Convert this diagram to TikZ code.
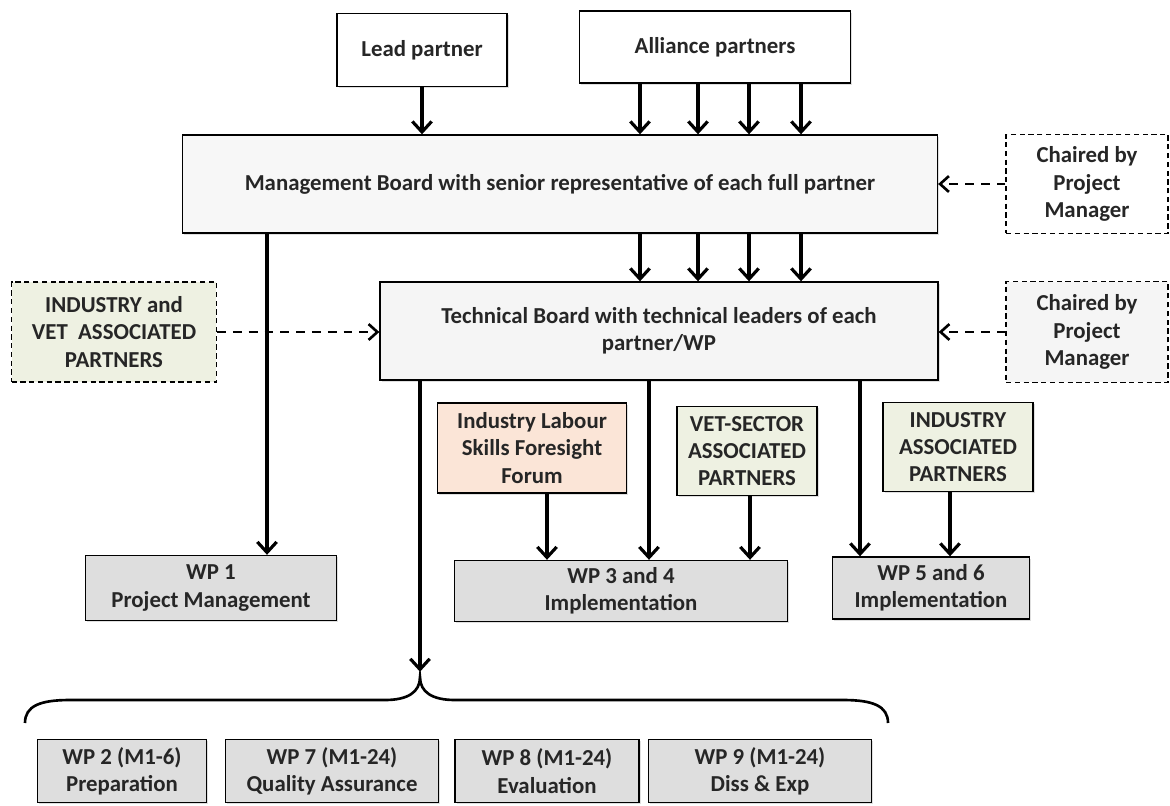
\documentclass[tikz,border=0pt]{standalone}
\usepackage{fontspec}
\setmainfont{Carlito}
\usetikzlibrary{arrows.meta,shadows}

\definecolor{wpgray}{HTML}{DEDEDE}
\definecolor{olivelight}{HTML}{EEF1E2}
\definecolor{peach}{HTML}{FBE5D7}

\begin{document}
\begin{tikzpicture}[x=0.02cm,y=-0.02cm,>={Straight Barb[length=6pt,width=11pt]},
  every node/.style={font=\bfseries\fontsize{13}{15.5}\selectfont, align=center, text=black!85},
  box/.style={draw, line width=0.8pt, inner sep=2pt},
  boxshadow/.style={drop shadow={opacity=0.25,shadow xshift=1pt,shadow yshift=-1pt}},
  wpbox/.style={box, boxshadow, fill=wpgray},
  dashbox/.style={draw, dash pattern=on 3pt off 2pt, line width=0.7pt, inner sep=2pt},
  arr/.style={->, line width=1.8pt},
  dasharr/.style={-{Straight Barb[length=5pt,width=9pt]}, line width=1.5pt, dash pattern=on 5pt off 4pt}]
\useasboundingbox (0,0) rectangle (1170,805);

% partners on top
\node[box, boxshadow, fill=white, minimum width=3.4cm, minimum height=1.46cm] (lead) at (422,50) {Lead partner};
\node[box, boxshadow, fill=white, minimum width=5.42cm, minimum height=1.44cm] (alliance) at (715,47) {Alliance partners};

% boards
\node[box, boxshadow, fill=gray!6, minimum width=15.1cm, minimum height=1.96cm] (mgmt) at (560,184)
  {Management Board with senior representative of each full partner};
\node[box, boxshadow, fill=gray!8, minimum width=11.16cm, minimum height=1.96cm] (tech) at (659,331)
  {Technical Board with technical leaders of each\\partner/WP};

% side boxes
\node[dashbox, fill=white, minimum width=3.24cm, minimum height=1.98cm] (chairA) at (1087,184) {Chaired by\\Project\\Manager};
\node[dashbox, fill=gray!8, minimum width=3.24cm, minimum height=2.02cm] (chairB) at (1087,332) {Chaired by\\Project\\Manager};
\node[dashbox, fill=olivelight, minimum width=4.1cm, minimum height=2cm] (assoc) at (114,332) {INDUSTRY and\\VET\ \ ASSOCIATED\\PARTNERS};

% associated partners
\node[box, boxshadow, fill=peach, minimum width=3.78cm, minimum height=1.8cm] (forum) at (532,448) {Industry Labour\\Skills Foresight\\Forum};
\node[box, boxshadow, fill=olivelight, minimum width=2.8cm, minimum height=1.78cm] (vet) at (747,451) {VET-SECTOR\\ASSOCIATED\\PARTNERS};
\node[box, boxshadow, fill=olivelight, minimum width=3cm, minimum height=1.78cm] (indassoc) at (958,447) {INDUSTRY\\ASSOCIATED\\PARTNERS};

% work packages
\node[wpbox, minimum width=5.02cm, minimum height=1.3cm] (wp1) at (211,588) {WP 1\\Project Management};
\node[wpbox, minimum width=6.66cm, minimum height=1.22cm] (wp34) at (621,591) {WP 3 and 4\\Implementation};
\node[wpbox, minimum width=3.94cm, minimum height=1.24cm] (wp56) at (931,588) {WP 5 and 6\\Implementation};
\node[wpbox, minimum width=3.38cm, minimum height=1.26cm] (wp2) at (122,771) {WP 2 (M1-6)\\Preparation};
\node[wpbox, minimum width=4.26cm, minimum height=1.26cm] (wp7) at (332,771) {WP 7 (M1-24)\\Quality Assurance};
\node[wpbox, minimum width=3.68cm, minimum height=1.26cm] (wp8) at (547,771) {WP 8 (M1-24)\\Evaluation};
\node[wpbox, minimum width=4.46cm, minimum height=1.26cm] (wp9) at (760,771) {WP 9 (M1-24)\\Diss \& Exp};

% brace over WP 2,7,8,9
\coordinate (bracetip) at (420,677);
\draw[line width=1.5pt] (25,723) .. controls (25,706) and (40,700) .. (70,700) -- (385,700)
  .. controls (408,700) and (420,692) .. (bracetip)
  .. controls (420,692) and (432,700) .. (455,700) -- (843,700)
  .. controls (873,700) and (888,706) .. (888,723);

% arrows
\draw[arr] (lead.south) -- (lead.south |- mgmt.north);
\foreach \x in {640,698,749,801} {
  \draw[arr] (\x,0 |- alliance.south) -- (\x,0 |- mgmt.north);
  \draw[arr] (\x,0 |- mgmt.south) -- (\x,0 |- tech.north);
}
\draw[arr] (267,0 |- mgmt.south) -- (267,0 |- wp1.north);
\draw[arr, shorten >=3pt] (420,0 |- tech.south) -- (bracetip);
\draw[arr] (649,0 |- tech.south) -- (649,0 |- wp34.north);
\draw[arr] (860,0 |- tech.south) -- (860,0 |- wp56.north);
\draw[arr] (547,0 |- forum.south) -- (547,0 |- wp34.north);
\draw[arr] (750,0 |- vet.south) -- (750,0 |- wp34.north);
\draw[arr] (950,0 |- indassoc.south) -- (950,0 |- wp56.north);

% dashed links
\draw[dasharr] (chairA.west) -- (chairA.west -| mgmt.east);
\draw[dasharr] (chairB.west) -- (chairB.west -| tech.east);
\draw[dasharr] (assoc.east) -- (assoc.east -| tech.west);
\end{tikzpicture}
\end{document}
